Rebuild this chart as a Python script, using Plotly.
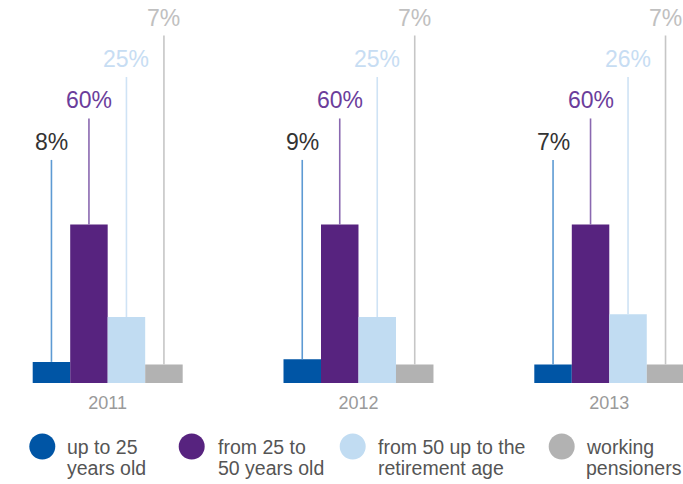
import plotly.graph_objects as go

# ---- data ----
years = ["2011", "2012", "2013"]
series_names = ["up to 25 years old", "from 25 to 50 years old",
                "from 50 up to the retirement age", "working pensioners"]
legend_lines = [["up to 25", "years old"], ["from 25 to", "50 years old"],
                ["from 50 up to the", "retirement age"], ["working", "pensioners"]]
up_to_25 = [8, 9, 7]
from_25_to_50 = [60, 60, 60]
from_50_to_retirement = [25, 25, 26]
working_pensioners = [7, 7, 7]
series_values = [up_to_25, from_25_to_50, from_50_to_retirement, working_pensioners]

# ---- style ----
bar_colors = ["#0055a5", "#57237f", "#c1dcf2", "#b2b2b2"]
line_colors = ["#5d9ad3", "#8a68b0", "#cfe3f5", "#c6c6c6"]
label_colors = ["#333333", "#6b3d9b", "#c7ddf3", "#c0c0c0"]
FONT = "Liberation Sans, Arial, Helvetica, sans-serif"

W, H = 683, 484
mt, mb = 0, 101
plot_h = H - mt - mb
px_per_unit_y = 2.64
y_top = plot_h / px_per_unit_y
bargap = 0.402
group_w = 1 - bargap
n = len(series_values)
bar_w = group_w / n
x_range = [-0.4294, 2.2939]
tier_base, tier_step = 84.5, 15.7

xg = list(range(len(years)))

fig = go.Figure()
for i, (name, vals) in enumerate(zip(series_names, series_values)):
    fig.add_trace(go.Bar(x=xg, y=vals, name=name, marker_color=bar_colors[i],
                         marker_line_width=0, showlegend=False, hoverinfo="skip"))

annotations = []
for i, vals in enumerate(series_values):
    off = -group_w / 2 + (i + 0.5) * bar_w
    tier = tier_base + tier_step * i
    lx, ly = [], []
    for g, v in zip(xg, vals):
        lx += [g + off, g + off, None]
        ly += [v, tier, None]
        annotations.append(dict(x=g + off, y=tier, xref="x", yref="y", text=f"{v}%",
                                showarrow=False, xanchor="center", yanchor="bottom",
                                yshift=3, font=dict(family=FONT, size=23, color=label_colors[i])))
    fig.add_trace(go.Scatter(x=lx, y=ly, mode="lines", line=dict(color=line_colors[i], width=1.6),
                             showlegend=False, hoverinfo="skip"))

# ---- custom legend ----
def py2paper(py):
    return (H - mb - py) / plot_h

circle_cx = [42.3, 191.7, 352.7, 561.7]
text_x = [65.7, 216.7, 376.7, 585.0]
circle_cy = 446.5
shapes = []
for i in range(n):
    shapes.append(dict(type="circle", xref="paper", yref="paper",
                       xsizemode="pixel", ysizemode="pixel",
                       xanchor=circle_cx[i] / W, yanchor=py2paper(circle_cy),
                       x0=-13, x1=13, y0=-13, y1=13,
                       fillcolor=bar_colors[i], line=dict(width=0)))
    for j, (txt, base) in enumerate(zip(legend_lines[i], [455, 476])):
        annotations.append(dict(x=(text_x[i] - 1) / W, y=py2paper(base + 5), xref="paper", yref="paper",
                                text=txt, showarrow=False, xanchor="left", yanchor="bottom",
                                font=dict(family=FONT, size=19.5, color="#555555")))

fig.update_layout(
    width=W, height=H,
    margin=dict(l=0, r=0, t=mt, b=mb, pad=0),
    paper_bgcolor="white", plot_bgcolor="white",
    barmode="group", bargap=bargap, bargroupgap=0,
    xaxis=dict(range=x_range, tickvals=xg, ticktext=years, showgrid=False, zeroline=False,
               showline=False, ticks="", ticklabelstandoff=7,
               tickfont=dict(family=FONT, size=18, color="#9a9a9a"),
               fixedrange=True),
    yaxis=dict(range=[0, y_top], visible=False, fixedrange=True),
    annotations=annotations, shapes=shapes, showlegend=False,
)

fig.write_html("out.html", config={"displayModeBar": False},
               post_script="document.body.style.margin='0';document.body.style.overflow='hidden';")
